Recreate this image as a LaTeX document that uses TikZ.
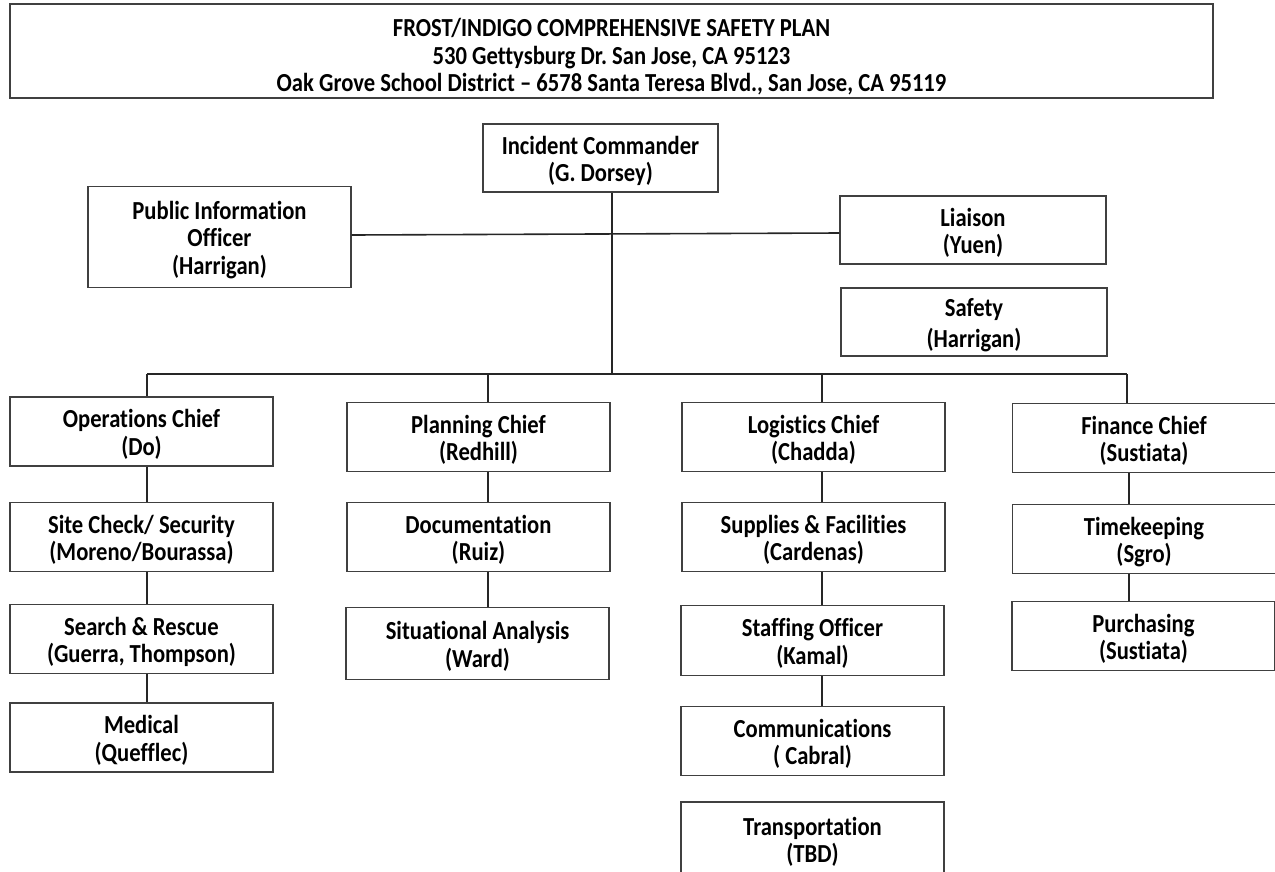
\documentclass[tikz,border=0pt]{standalone}
\usepackage{fontspec}
\setmainfont{Carlito}[FakeStretch=0.87, Ligatures={TeX,NoCommon}]
\frenchspacing
\newcommand{\topstrut}[1]{\rule{0pt}{#1}}
\begin{document}
\begin{tikzpicture}[x=1pt,y=-1pt,
  box/.style={draw=black!75, line width=1.4pt, fill=white, align=center,
    font=\fontsize{26}{27.5}\selectfont\bfseries, inner sep=0pt,
    minimum width=263, minimum height=69},
  conn/.style={draw=black!85, line width=1.6pt}]
\useasboundingbox (0,0) rectangle (1275,871);
\clip (0,0) rectangle (1275,871);
% title
\node[box, minimum width=1203, minimum height=94] (title) at (611.5,51)
  {\topstrut{30pt}FROST/INDIGO COMPREHENSIVE SAFETY PLAN\\530 Gettysburg Dr. San Jose, CA 95123\\Oak Grove School District – 6578 Santa Teresa Blvd., San Jose, CA 95119};
% command staff
\node[box, minimum width=235, minimum height=68] (ic) at (600.5,158) {\topstrut{24pt}Incident Commander\\(G. Dorsey)};
\node[box, minimum width=263, minimum height=101] (pio) at (219.5,237) {\topstrut{24pt}Public Information\\Officer\\(Harrigan)};
\node[box, minimum width=266, minimum height=68] (liaison) at (973,230) {\topstrut{24pt}Liaison\\(Yuen)};
\node[box, minimum width=266, minimum height=68] (safety) at (974,322) {\topstrut{24pt}Safety\\[3pt](Harrigan)};
% coordinates
\coordinate (trunk) at (612,374);
\coordinate (busL) at (147,374);
\coordinate (busP) at (488,374);
\coordinate (busG) at (822,374);
\coordinate (busR) at (1127,374);
% operations
\node[box] (ops) at (141.5,431.5) {\topstrut{24pt}Operations Chief\\(Do)};
\node[box] (site) at (141.5,537) {\topstrut{24pt}Site Check/ Security\\(Moreno/Bourassa)};
\node[box] (search) at (141.5,639) {\topstrut{24pt}Search \& Rescue\\(Guerra, Thompson)};
\node[box] (medical) at (141.5,737.5) {\topstrut{24pt}Medical\\(Quefflec)};
% planning
\node[box] (plan) at (478.5,437) {\topstrut{24pt}Planning Chief\\(Redhill)};
\node[box] (doc) at (478.5,537) {\topstrut{24pt}Documentation\\(Ruiz)};
\node[box, minimum height=72] (sit) at (477.5,643.5) {\topstrut{24pt}Situational Analysis\\(Ward)};
% logistics
\node[box] (log) at (813.5,437) {\topstrut{24pt}Logistics Chief\\(Chadda)};
\node[box] (sup) at (813.5,537) {\topstrut{24pt}Supplies \& Facilities\\(Cardenas)};
\node[box, minimum height=70] (staff) at (812.5,640.5) {\topstrut{24pt}Staffing Officer\\(Kamal)};
\node[box] (comm) at (812.5,741) {\topstrut{24pt}Communications\\( Cabral)};
\node[box, minimum height=74] (trans) at (812.5,839) {\topstrut{24pt}Transportation\\(TBD)};
% finance
\node[box] (fin) at (1144,438) {\topstrut{24pt}Finance Chief\\(Sustiata)};
\node[box] (time) at (1144,539) {\topstrut{24pt}Timekeeping\\(Sgro)};
\node[box] (purch) at (1143.5,636) {\topstrut{24pt}Purchasing\\(Sustiata)};
% connectors
\draw[conn] (ic.south -| trunk) -- (trunk);
\draw[conn] (pio.east |- 0,235) -- (liaison.west |- 0,233);
\draw[conn] (busL) -- (busR);
\draw[conn] (busL) -- (ops.north -| busL);
\draw[conn] (busP) -- (plan.north -| busP);
\draw[conn] (busG) -- (log.north -| busG);
\draw[conn] (busR) -- (fin.north -| busR);
\draw[conn] (ops.south -| busL) -- (site.north -| busL);
\draw[conn] (site.south -| busL) -- (search.north -| busL);
\draw[conn] (search.south -| busL) -- (medical.north -| busL);
\draw[conn] (plan.south -| busP) -- (doc.north -| busP);
\draw[conn] (doc.south -| busP) -- (sit.north -| busP);
\draw[conn] (log.south -| busG) -- (sup.north -| busG);
\draw[conn] (sup.south -| busG) -- (staff.north -| busG);
\draw[conn] (staff.south -| busG) -- (comm.north -| busG);
\coordinate (finx) at (1129,374);
\draw[conn] (fin.south -| finx) -- (time.north -| finx);
\draw[conn] (time.south -| finx) -- (purch.north -| finx);
\end{tikzpicture}
\end{document}
